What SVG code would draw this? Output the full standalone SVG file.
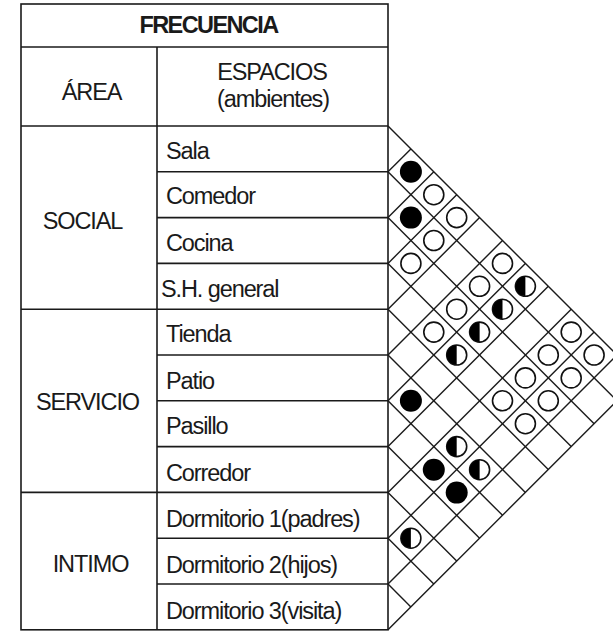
<svg xmlns="http://www.w3.org/2000/svg" xmlns:xlink="http://www.w3.org/1999/xlink" width="613" height="631" viewBox="0 0 613 631">
<style>
.t{font-family:"Liberation Sans",Arial,sans-serif;font-size:23.5px;fill:#1a1a1a;letter-spacing:-1.1px}
.b{font-weight:bold;letter-spacing:-1.6px}
.m{text-anchor:middle}
.tl{stroke:#1a1a1a;stroke-width:1.6;fill:none}
.gl{stroke:#1a1a1a;stroke-width:1.4;fill:none}
</style>
<defs>
<g id="full"><circle r="11" fill="#000"/></g>
<g id="open"><circle r="10" fill="#fff" stroke="#111" stroke-width="1.6"/></g>
<g id="half"><circle r="10" fill="#fff" stroke="#111" stroke-width="1.6"/><path d="M0,-10 A10,10 0 0 0 0,10 Z" fill="#000"/></g>
</defs>
<rect width="613" height="631" fill="#fff"/>
<g id="table" class="tl">
<rect x="21" y="4" width="367" height="625.8"/>
<line x1="21" y1="47" x2="388" y2="47"/>
<line x1="21" y1="126" x2="388" y2="126"/>
<line x1="157" y1="47" x2="157" y2="629.8"/>
<line x1="21" y1="309.2" x2="388" y2="309.2"/>
<line x1="21" y1="492.4" x2="388" y2="492.4"/>
<line x1="157" y1="171.8" x2="388" y2="171.8"/>
<line x1="157" y1="217.6" x2="388" y2="217.6"/>
<line x1="157" y1="263.4" x2="388" y2="263.4"/>
<line x1="157" y1="355" x2="388" y2="355"/>
<line x1="157" y1="400.8" x2="388" y2="400.8"/>
<line x1="157" y1="446.6" x2="388" y2="446.6"/>
<line x1="157" y1="538.2" x2="388" y2="538.2"/>
<line x1="157" y1="584" x2="388" y2="584"/>
</g>
<g id="header">
<text class="t b m" x="208.5" y="32.5">FRECUENCIA</text>
<text class="t m" x="91.5" y="99.5">ÁREA</text>
<text class="t m" x="272" y="79.5">ESPACIOS</text>
<text class="t m" x="273" y="107">(ambientes)</text>
</g>
<g id="areas">
<text class="t m" x="82.5" y="229">SOCIAL</text>
<text class="t m" x="87.5" y="410">SERVICIO</text>
<text class="t m" x="90.5" y="571.5">INTIMO</text>
</g>
<g id="spaces">
<text class="t" x="166" y="159">Sala</text>
<text class="t" x="166" y="203.5">Comedor</text>
<text class="t" x="166" y="250.5">Cocina</text>
<text class="t" x="161" y="296.5">S.H. general</text>
<text class="t" x="166" y="341.5">Tienda</text>
<text class="t" x="166" y="388.5">Patio</text>
<text class="t" x="166" y="433.5">Pasillo</text>
<text class="t" x="166" y="480.5">Corredor</text>
<text class="t" x="166" y="526.5">Dormitorio 1(padres)</text>
<text class="t" x="166" y="573">Dormitorio 2(hijos)</text>
<text class="t" x="166" y="618.5">Dormitorio 3(visita)</text>
</g>
<g id="connectors" class="gl">
<line x1="388" y1="126" x2="639.9" y2="377.9"/>
<line x1="388" y1="171.8" x2="617" y2="400.8"/>
<line x1="388" y1="217.6" x2="594.1" y2="423.7"/>
<line x1="388" y1="263.4" x2="571.2" y2="446.6"/>
<line x1="388" y1="309.2" x2="548.3" y2="469.5"/>
<line x1="388" y1="355" x2="525.4" y2="492.4"/>
<line x1="388" y1="400.8" x2="502.5" y2="515.3"/>
<line x1="388" y1="446.6" x2="479.6" y2="538.2"/>
<line x1="388" y1="492.4" x2="456.7" y2="561.1"/>
<line x1="388" y1="538.2" x2="433.8" y2="584"/>
<line x1="388" y1="584" x2="410.9" y2="606.9"/>
<line x1="388" y1="171.8" x2="410.9" y2="148.9"/>
<line x1="388" y1="217.6" x2="433.8" y2="171.8"/>
<line x1="388" y1="263.4" x2="456.7" y2="194.7"/>
<line x1="388" y1="309.2" x2="479.6" y2="217.6"/>
<line x1="388" y1="355" x2="502.5" y2="240.5"/>
<line x1="388" y1="400.8" x2="525.4" y2="263.4"/>
<line x1="388" y1="446.6" x2="548.3" y2="286.3"/>
<line x1="388" y1="492.4" x2="571.2" y2="309.2"/>
<line x1="388" y1="538.2" x2="594.1" y2="332.1"/>
<line x1="388" y1="584" x2="617" y2="355"/>
<line x1="388" y1="629.8" x2="639.9" y2="377.9"/>
</g>
<g id="marks">
<use href="#full" x="410.9" y="171.8"/>
<use href="#full" x="410.9" y="217.6"/>
<use href="#full" x="410.9" y="400.8"/>
<use href="#full" x="433.8" y="469.7"/>
<use href="#full" x="456.7" y="492.6"/>
<use href="#open" x="433.8" y="194.7"/>
<use href="#open" x="456.7" y="217.6"/>
<use href="#open" x="433.8" y="240.5"/>
<use href="#open" x="410.9" y="263.4"/>
<use href="#open" x="502.5" y="263.4"/>
<use href="#open" x="479.6" y="286.3"/>
<use href="#open" x="456.7" y="309.2"/>
<use href="#open" x="433.8" y="332.1"/>
<use href="#open" x="571.2" y="332.1"/>
<use href="#open" x="548.3" y="355"/>
<use href="#open" x="594.1" y="355"/>
<use href="#open" x="525.4" y="377.9"/>
<use href="#open" x="571.2" y="377.9"/>
<use href="#open" x="502.5" y="400.8"/>
<use href="#open" x="548.3" y="400.8"/>
<use href="#open" x="525.4" y="423.7"/>
<use href="#half" x="525.4" y="286.3"/>
<use href="#half" x="502.5" y="309.2"/>
<use href="#half" x="479.6" y="332.1"/>
<use href="#half" x="456.7" y="355"/>
<use href="#half" x="456.7" y="446.6"/>
<use href="#half" x="479.6" y="469.7"/>
<use href="#half" x="410.9" y="538.2"/>
</g>
</svg>
